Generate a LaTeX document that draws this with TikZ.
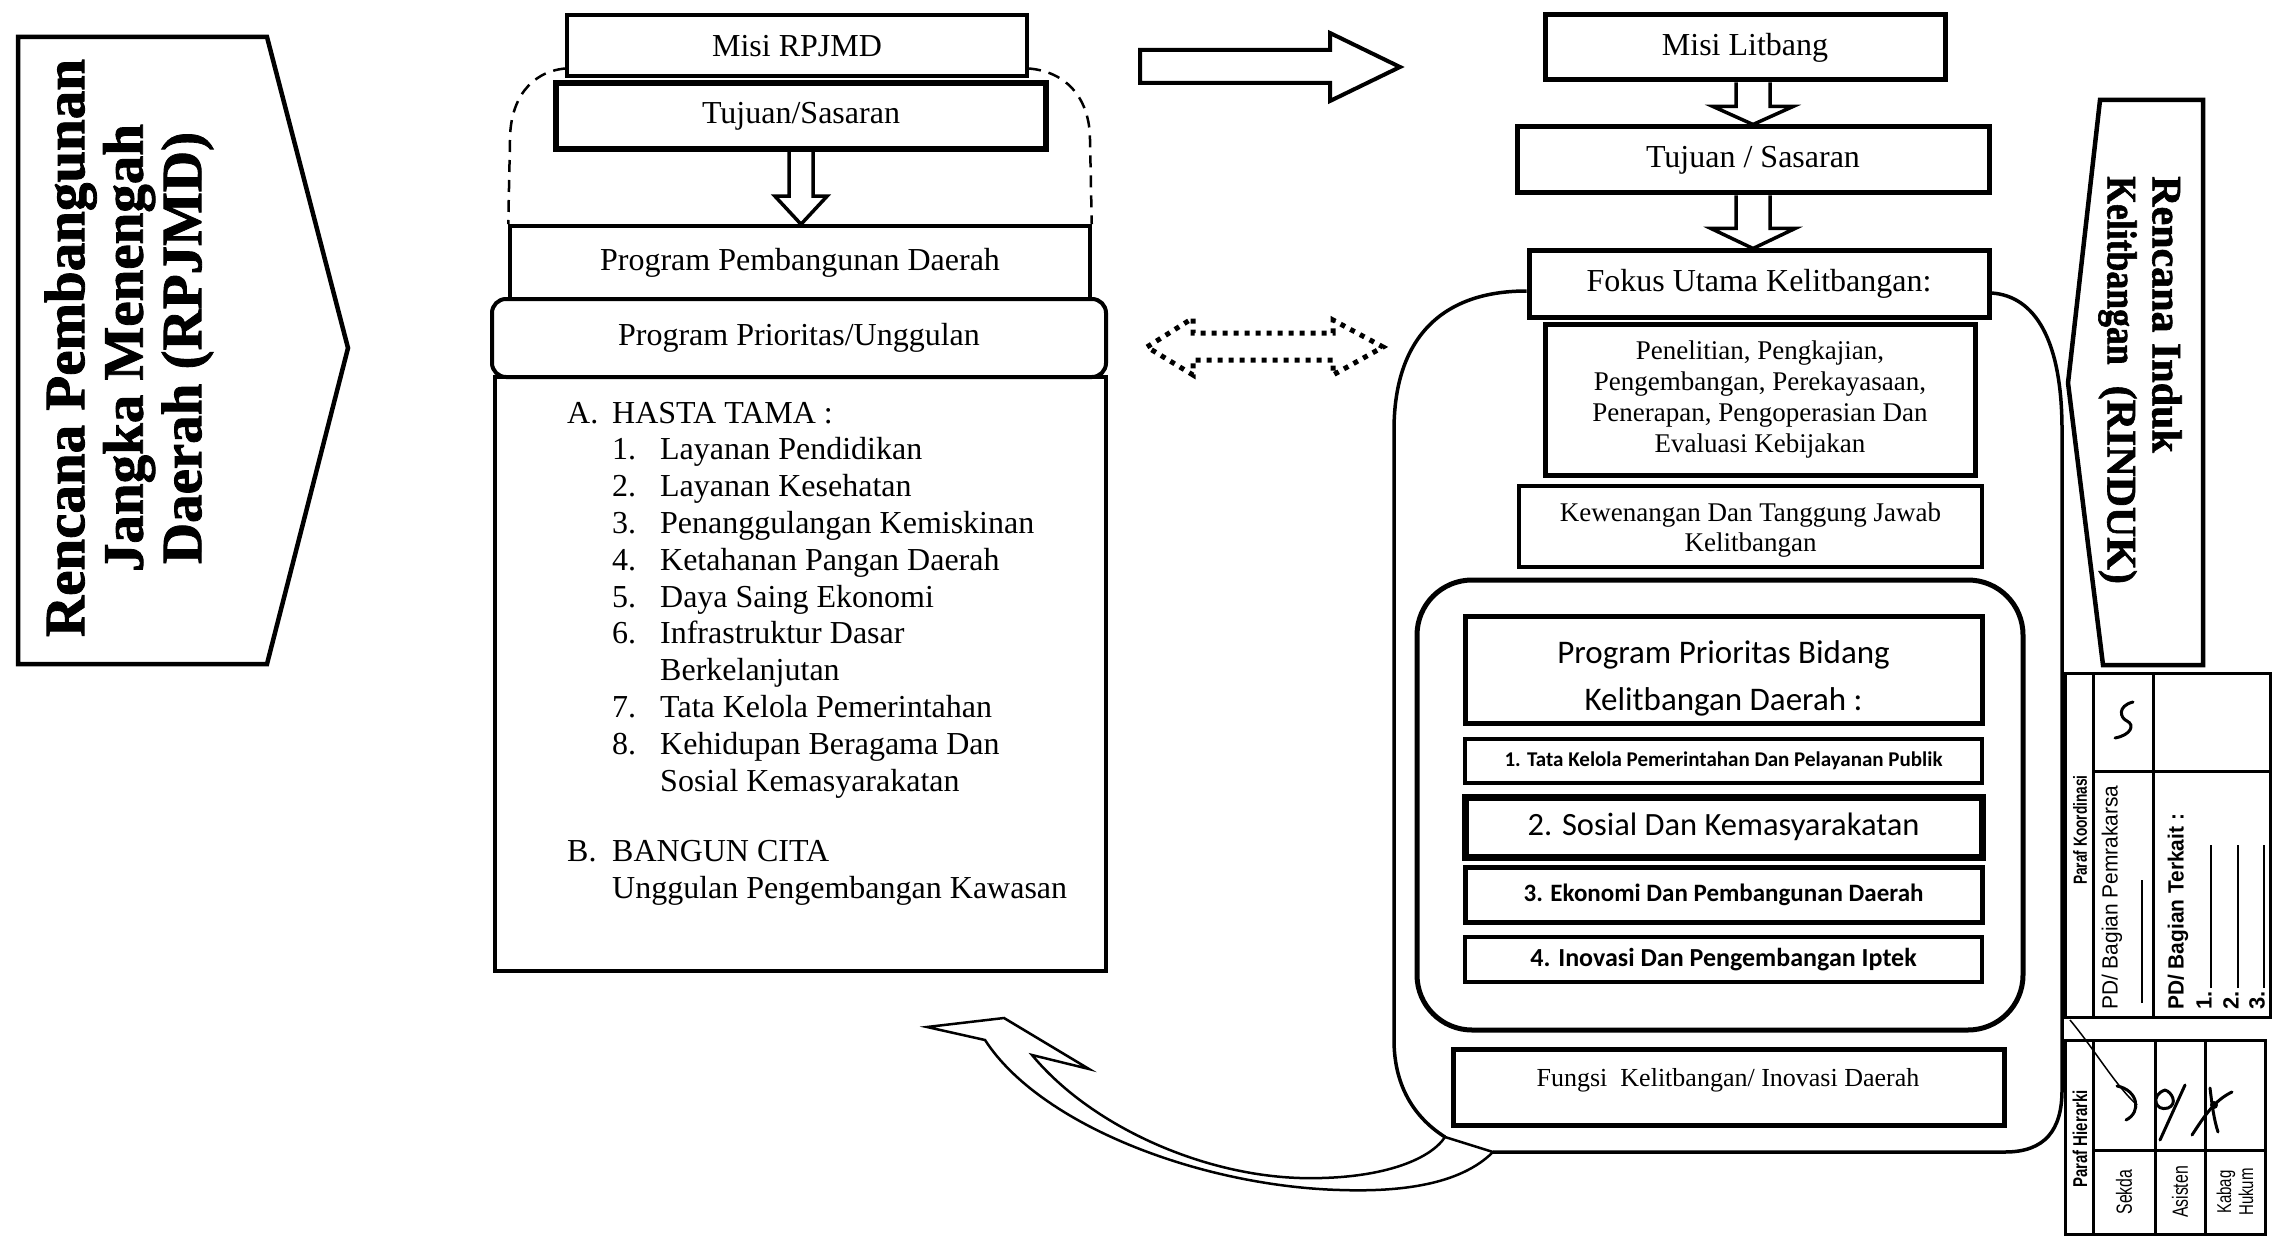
\documentclass[tikz,border=0pt]{standalone}
\usepackage{fontspec}
\setmainfont{Liberation Serif}
\newfontfamily\heavyfont[FakeBold=1.5]{Liberation Serif Bold}
\newfontfamily\calfont{Carlito}
\newfontfamily\tabwide{Liberation Sans}
\usetikzlibrary{calc}
\newcommand\myfs[2]{\fontsize{#1}{#2}\selectfont}
\newcommand\narrow[2]{\scalebox{#1}[1]{#2}}
% #1 top point, #2 tip point (same x), #3 shaft half width, #4 head half width, #5 head length
\newcommand\fatdown[5]{%
  \draw[fatarr] ($#1+(-#3,0)$) -- ($#2+(-#3,-#5)$) -- ($#2+(-#4,-#5)$) -- #2
     -- ($#2+(#4,-#5)$) -- ($#2+(#3,-#5)$) -- ($#1+(#3,0)$);}
\begin{document}
\begin{tikzpicture}[x=1pt,y=-1pt,
  box/.style={draw, line width=4pt, fill=white, inner sep=0pt, align=center},
  fatarr/.style={draw, line width=3.5pt, line join=miter},
  tnr/.style={font=\myfs{32}{36}},
  frame/.style={line width=3pt},
  sig/.style={line width=3pt, line cap=round},
  rot/.style={rotate=90, inner sep=0pt},
]
\useasboundingbox (0,0) rectangle (2290,1241);

% ---------------- left pentagon (RPJMD)
\draw[line width=4.5pt, line join=miter] (18,37) -- (267,37) -- (348,348) -- (267,664) -- (18,664) -- cycle;
\node[rotate=90, align=center, inner sep=0pt, font=\heavyfont\myfs{57}{58.5}] (rpjmdtxt) at (129,348)
  {Rencana Pembangunan\\Jangka Menengah\\Daerah (RPJMD)};

% ---------------- middle column
\node[box, minimum width=460pt, minimum height=61pt, tnr] (misi) at (797,46) {Misi RPJMD};
\node[box, line width=6pt, minimum width=490pt, minimum height=66pt, tnr] (tujuan) at (801,116) {Tujuan/Sasaran};
\node[box, line width=3.5pt, minimum width=580pt, minimum height=73pt, tnr] (ppd) at (800,262.5) {Program Pembangunan Daerah};
\node[box, minimum width=611pt, minimum height=594pt] (list) at (800.5,674) {};
\node[box, rounded corners=14pt, minimum width=614pt, minimum height=78pt, tnr] (ppu) at (799,338) {Program Prioritas/Unggulan};

\node[anchor=base west, inner sep=0pt, font=\myfs{32}{36.8}] (listtxt) at (567,423) {%
\begin{tabular}[t]{@{}p{45pt}@{}p{48pt}@{}l@{}}
A. & \multicolumn{2}{@{}l@{}}{HASTA TAMA :}\\
 & 1. & Layanan Pendidikan\\
 & 2. & Layanan Kesehatan\\
 & 3. & Penanggulangan Kemiskinan\\
 & 4. & Ketahanan Pangan Daerah\\
 & 5. & Daya Saing Ekonomi\\
 & 6. & Infrastruktur Dasar\\
 &    & Berkelanjutan\\
 & 7. & Tata Kelola Pemerintahan\\
 & 8. & Kehidupan Beragama Dan\\
 &    & Sosial Kemasyarakatan\\[34pt]
B. & \multicolumn{2}{@{}l@{}}{BANGUN CITA}\\
 & \multicolumn{2}{@{}l@{}}{Unggulan Pengembangan Kawasan}
\end{tabular}};

% dashed outline
\draw[line width=2.5pt, dash pattern=on 12pt off 8pt] ($(misi.south west)+(0,-10)$) .. controls (530,72) and (510,100) .. (510,140) -- (ppd.north west);
\draw[line width=2.5pt, dash pattern=on 12pt off 8pt] ($(misi.south east)+(0,-10)$) .. controls (1068,72) and (1090,100) .. (1090,140) -- (ppd.north east);

\fatdown{(tujuan.south)}{(tujuan.south |- ppd.north)}{12}{26}{28}

% ---------------- central arrows
\draw[line width=4pt, line join=miter] (1140,50) -- (1330,50) -- (1330,33) -- (1400,67) -- (1330,101) -- (1330,83) -- (1140,83) -- cycle;
\draw[line width=5pt, dash pattern=on 5pt off 6pt] (1147,347) -- (1193,318) -- (1193,333) -- (1333,333) -- (1333,320) -- (1383,347) -- (1333,375) -- (1333,360) -- (1193,360) -- (1193,375) -- cycle;

% ---------------- right column
\node[box, line width=5pt, minimum width=400pt, minimum height=65pt, tnr] (misil) at (1745,47.5) {Misi Litbang};
\node[box, line width=5pt, minimum width=472pt, minimum height=66pt, tnr] (tujuanl) at (1753,160) {Tujuan / Sasaran};
\node[box, line width=5pt, minimum width=460pt, minimum height=66pt, tnr] (fokus) at (1759,284) {Fokus Utama Kelitbangan:};
\fatdown{(tujuanl.north |- misil.south)}{(tujuanl.north)}{17}{40}{18}
\fatdown{(tujuanl.south)}{(tujuanl.south |- fokus.north)}{17}{42}{20}

\node[box, line width=5pt, minimum width=430pt, minimum height=151pt, font=\myfs{27}{31}] (pen) at (1760,399.5)
  {Penelitian, Pengkajian,\\Pengembangan, Perekayasaan,\\Penerapan, Pengoperasian Dan\\Evaluasi Kebijakan};
\node[box, line width=4pt, minimum width=463pt, minimum height=81pt] (kew) at (1750.5,526.5) {};
\node[inner sep=0pt, align=center, font=\myfs{27}{30}] (kewtxt) at (1750.5,530) {Kewenangan Dan Tanggung Jawab\\Kelitbangan};

\node[draw, line width=5pt, rounded corners=55pt, minimum width=606pt, minimum height=450pt, inner sep=0pt] (inner) at (1720,805) {};
\node[box, line width=5pt, minimum width=517pt, minimum height=107pt] (ppb) at (1723.5,669.5) {};
\node[inner sep=0pt, align=center, font=\calfont\myfs{33}{47}] (ppbtxt) at (1723.5,678) {Program Prioritas Bidang\\Kelitbangan Daerah :};
\node[box, line width=4pt, minimum width=517pt, minimum height=44pt, font=\calfont\bfseries\myfs{21}{24}] (p1) at (1723.5,761)
  {1. Tata Kelola Pemerintahan Dan Pelayanan Publik};
\node[box, line width=7pt, minimum width=517pt, minimum height=60pt, font=\calfont\myfs{32.5}{36}] (p2) at (1723.5,827)
  {2. Sosial Dan Kemasyarakatan};
\node[box, line width=5pt, minimum width=517pt, minimum height=55pt, font=\calfont\bfseries\myfs{25}{28}] (p3) at (1723.5,894.5)
  {3. Ekonomi Dan Pembangunan Daerah};
\node[box, line width=4pt, minimum width=517pt, minimum height=45pt, font=\calfont\bfseries\myfs{26}{29}] (p4) at (1723.5,959.5)
  {4. Inovasi Dan Pengembangan Iptek};

\node[box, line width=5pt, minimum width=551pt, minimum height=76pt] (fungsi) at (1728.5,1087) {};
\node[inner sep=0pt, font=\myfs{26}{30}] (fungsitxt) at (1728,1080) {Fungsi\ \ Kelitbangan/ Inovasi Daerah};

% outer container
\draw[line width=3.5pt] ($(fokus.west)+(0,7)$) .. controls (1440,291) and (1394,340) .. (1394,430) -- (1394,1040) .. controls (1394,1090) and (1418,1120) .. (1445,1137);
\draw[line width=3.5pt] (1493,1152) -- (2005,1152) .. controls (2045,1152) and (2062,1130) .. (2062,1090) -- (2062,430) .. controls (2062,340) and (2035,296) .. ($(fokus.east)+(0,9)$);

% curved ribbon arrow
\draw[line width=2.5pt, line join=miter] (1445,1137) -- (1493,1152) .. controls (1460,1185) and (1400,1192) .. (1340,1190)
  .. controls (1200,1186) and (1040,1125) .. (985,1040) -- (927,1027) -- (1004,1018) -- (1089,1069) -- (1032,1055)
  .. controls (1090,1125) and (1200,1175) .. (1300,1178) .. controls (1380,1180) and (1430,1160) .. (1445,1137);

% ---------------- RINDUK pentagon
\draw[line width=4.5pt, line join=miter] (2100,100) -- (2203,100) -- (2203,665) -- (2103,665) -- (2068,383) -- cycle;
\node[rotate=-90, anchor=west, align=left, inner sep=0pt, font=\heavyfont\myfs{42}{45}] (rinduktxt) at (2140,176)
  {Rencana Induk\\\narrow{0.85}{Kelitbangan}\ \ (RINDUK)};

% ---------------- Paraf Koordinasi table
\draw[frame] (2065,673) rectangle (2270,1017);
\draw[frame] (2093,673) -- (2093,1017);
\draw[frame] (2153,673) -- (2153,1017);
\draw[frame] (2093,771) -- (2270,771);
\node[rot, font=\tabwide\bfseries\myfs{19}{21}] (pktitle) at (2080,830) {\narrow{0.72}{Paraf Koordinasi}};
\node[rot, anchor=west, font=\tabwide\myfs{22}{24}] (pkpem) at (2112,1010) {\narrow{0.95}{PD/ Bagian Pemrakarsa}};
\draw[line width=2.5pt] (2142,1003) -- (2142,880);
\node[rot, anchor=west, font=\tabwide\bfseries\myfs{22}{24}] (pkter) at (2178,1010) {\narrow{0.95}{PD/ Bagian Terkait :}};
\node[rot, anchor=west, font=\tabwide\bfseries\myfs{22}{24}] (pk1) at (2204,1010) {1.};
\node[rot, anchor=west, font=\tabwide\bfseries\myfs{22}{24}] (pk2) at (2231,1010) {2.};
\node[rot, anchor=west, font=\tabwide\bfseries\myfs{22}{24}] (pk3) at (2257,1010) {3.};
\draw[line width=2.5pt] (2211,988) -- (2211,845);
\draw[line width=2.5pt] (2238,988) -- (2238,845);
\draw[line width=2.5pt] (2264,988) -- (2264,845);
\draw[sig] (2133,702) .. controls (2117,706) and (2120,718) .. (2127,721) .. controls (2135,725) and (2131,735) .. (2115,738);

% ---------------- Paraf Hierarki table
\draw[frame] (2065,1040) rectangle (2265,1234);
\draw[frame] (2093,1040) -- (2093,1234);
\draw[frame] (2155,1040) -- (2155,1234);
\draw[frame] (2205,1040) -- (2205,1234);
\draw[frame] (2093,1150) -- (2265,1150);
\node[rot, font=\tabwide\bfseries\myfs{20}{22}] (phtitle) at (2080,1139) {\narrow{0.75}{Paraf Hierarki}};
\node[rot, font=\tabwide\myfs{22}{24}] (phsekda) at (2124,1192) {\narrow{0.72}{Sekda}};
\node[rot, font=\tabwide\myfs{22}{24}] (phasis) at (2180,1192) {\narrow{0.72}{Asisten}};
\node[rot, align=center, font=\tabwide\myfs{20}{22}] (phkabag) at (2235,1192) {\narrow{0.75}{Kabag}\\\narrow{0.75}{Hukum}};
\draw[line width=1.5pt] (2070,1020) .. controls (2095,1050) and (2115,1085) .. (2137,1105);
\draw[sig] (2117,1086) .. controls (2138,1090) and (2142,1112) .. (2126,1120);
\draw[sig] (2165,1090) .. controls (2150,1095) and (2155,1112) .. (2168,1108) .. controls (2178,1104) and (2172,1092) .. (2165,1090);
\draw[sig] (2160,1140) -- (2185,1085);
\draw[sig] (2192,1135) .. controls (2205,1115) and (2215,1100) .. (2232,1092);
\draw[sig] (2210,1088) .. controls (2212,1105) and (2214,1120) .. (2218,1132);
\fill (2214,1105) circle (4pt);
\end{tikzpicture}
\end{document}
